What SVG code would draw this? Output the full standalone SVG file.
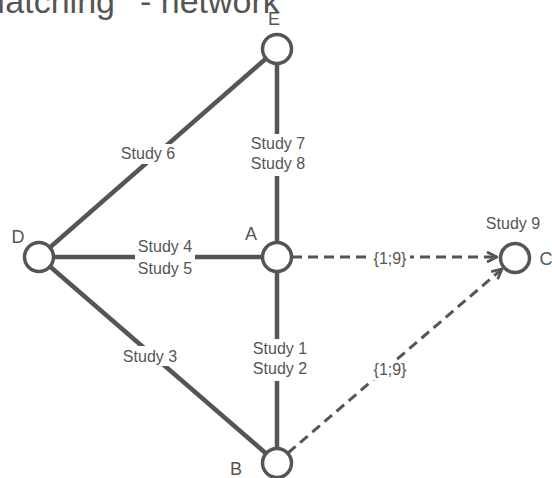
<svg xmlns="http://www.w3.org/2000/svg" width="552" height="478" viewBox="0 0 552 478">
<style>
text{font-family:"Liberation Sans",Arial,sans-serif;fill:#555}
.e{stroke:#555;stroke-width:4.5;fill:none}
.d{stroke:#555;stroke-width:3;fill:none;stroke-dasharray:10,6}
.n{fill:#fff;stroke:#555;stroke-width:3.5}
.l{font-size:16px;text-anchor:middle}
.nl{font-size:18px;text-anchor:middle}
.bg{fill:#fff}
</style>
<defs>
<marker id="ar" viewBox="0 0 12 12" refX="11" refY="6" markerWidth="12" markerHeight="12" markerUnits="userSpaceOnUse" orient="auto">
<path d="M1,1 L11,6 L1,11" fill="none" stroke="#555" stroke-width="2.8"/>
</marker>
</defs>
<text font-size="34" y="13"><tspan x="-23">Matching</tspan><tspan x="140">- network</tspan></text>
<g id="connectors">
<line class="e" x1="39" y1="257" x2="277" y2="49"/>
<line class="e" x1="277" y1="49" x2="277" y2="257"/>
<line class="e" x1="39" y1="257" x2="277" y2="257"/>
<line class="e" x1="39" y1="257" x2="277" y2="463"/>
<line class="e" x1="277" y1="257" x2="277" y2="463"/>
<line class="d" x1="292" y1="257" x2="497" y2="257" marker-end="url(#ar)"/>
<line class="d" x1="288" y1="453" x2="502" y2="269" stroke-width="2.5" marker-end="url(#ar)"/>
<rect class="bg" x="118" y="144" width="60" height="20"/>
<text class="l" x="148" y="158.5">Study 6</text>
<rect class="bg" x="248" y="134" width="60" height="42"/>
<text class="l" x="278" y="148.5">Study 7</text>
<text class="l" x="278" y="168.5">Study 8</text>
<rect class="bg" x="135" y="237" width="60" height="42"/>
<text class="l" x="165" y="251.5">Study 4</text>
<text class="l" x="165" y="273.5">Study 5</text>
<rect class="bg" x="120" y="346" width="60" height="20"/>
<text class="l" x="150" y="362">Study 3</text>
<rect class="bg" x="250" y="339" width="60" height="42"/>
<text class="l" x="280" y="353.5">Study 1</text>
<text class="l" x="280" y="373.5">Study 2</text>
<rect class="bg" x="371" y="249" width="39" height="20"/>
<text class="l" x="390" y="264">{1;9}</text>
<rect class="bg" x="371" y="360" width="39" height="20"/>
<text class="l" x="390" y="375">{1;9}</text>
</g>
<g id="E"><circle class="n" cx="277" cy="49" r="14.5"/><text class="nl" x="274" y="25">E</text></g>
<g id="A"><circle class="n" cx="277" cy="257" r="14.5"/><text class="nl" x="251" y="240">A</text></g>
<g id="D"><circle class="n" cx="39" cy="257" r="14.5"/><text class="nl" x="18" y="243">D</text></g>
<g id="B"><circle class="n" cx="277" cy="463" r="14.5"/><text class="nl" x="236" y="475">B</text></g>
<g id="C"><circle class="n" cx="515" cy="258" r="14.5"/><text class="nl" x="546" y="265" text-anchor="start">C</text><text class="l" x="513" y="229">Study 9</text></g>
</svg>
